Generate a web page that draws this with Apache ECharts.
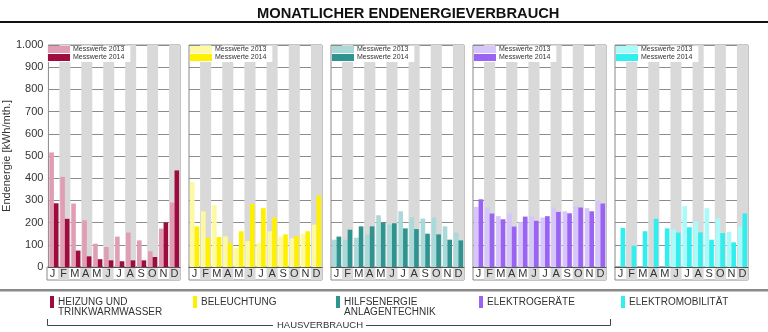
<!DOCTYPE html>
<html>
<head>
<meta charset="utf-8">
<script src="https://cdn.jsdelivr.net/npm/echarts@6/dist/echarts.min.js"></script>
<style>html,body{margin:0;padding:0;background:#fff}#c{width:768px;height:332px}</style>
</head>
<body>
<div id="c"></div>
<script>
const months = ['J','F','M','A','M','J','J','A','S','O','N','D'];
const yTicks = [0,100,200,300,400,500,600,700,800,900,1000];
const seriesNames = ['Messwerte 2013','Messwerte 2014'];
const categoryNames = ['HEIZUNG UND\nTRINKWARMWASSER','BELEUCHTUNG','HILFSENERGIE\nANLAGENTECHNIK','ELEKTROGERÄTE','ELEKTROMOBILITÄT'];
const groupLabel = 'HAUSVERBRAUCH';

const heizung2013 = [516,406,286,210,105,90,137,155,120,71,173,290];
const heizung2014 = [287,217,74,48,35,30,26,30,30,45,201,435];
const beleuchtung2013 = [383,251,278,138,86,117,108,161,137,129,150,191];
const beleuchtung2014 = [183,132,135,108,161,284,265,223,147,140,161,322];
const hilfs2013 = [123,123,132,147,233,191,251,223,218,223,183,155];
const hilfs2014 = [137,168,183,183,200,197,174,171,150,147,123,120];
const elektro2013 = [271,268,229,241,202,229,223,268,251,274,265,298];
const elektro2014 = [305,241,215,182,227,208,229,248,242,268,251,286];
const mobil2013 = [0,0,0,0,0,170,274,206,265,220,158,183];
const mobil2014 = [176,96,161,217,174,155,179,156,123,153,111,241];

const panels = [
  {d13: heizung2013, d14: heizung2014, c13: '#e09db3', c14: '#9e0b3e'},
  {d13: beleuchtung2013, d14: beleuchtung2014, c13: '#fdf9a2', c14: '#fff000'},
  {d13: hilfs2013, d14: hilfs2014, c13: '#a9d9d8', c14: '#2f9490'},
  {d13: elektro2013, d14: elektro2014, c13: '#d6c6fc', c14: '#9a63f4'},
  {d13: mobil2013, d14: mobil2014, c13: '#aafafa', c14: '#33eeee'}
];

const FONT = '"Liberation Sans", Arial, sans-serif';
const pLeft0 = 47, pStep = 142, pW = 133, pTop = 45, zeroY = 267, labH = 13;
const stripe = ['rgba(255,255,255,0)', '#d9d9d9'];

const grid = [], xAxis = [], yAxis = [], series = [], legend = [];
panels.forEach((p, i) => {
  const left = pLeft0 + i * pStep;
  grid.push({left: left, top: pTop, width: pW, height: zeroY - pTop, show: true, borderColor: '#8a8a8a', borderWidth: 1, containLabel: false});
  grid.push({left: left, top: zeroY, width: pW, height: labH, show: true, borderColor: '#8a8a8a', borderWidth: 1});
  xAxis.push({gridIndex: 2*i, type: 'category', data: months, boundaryGap: true,
    axisLine: {show: true, lineStyle: {color: '#555', width: 1}}, axisTick: {show: false}, axisLabel: {show: false},
    splitArea: {show: true, interval: 0, areaStyle: {color: stripe}}, splitLine: {show: false}});
  xAxis.push({gridIndex: 2*i+1, type: 'category', data: months, boundaryGap: true, position: 'top',
    axisLine: {show: false}, axisTick: {show: false},
    axisLabel: {show: true, inside: true, interval: 0, margin: 1, fontSize: 11, color: '#333', fontFamily: FONT, verticalAlign: 'top'},
    splitArea: {show: true, interval: 0, areaStyle: {color: stripe}}, splitLine: {show: false}});
  yAxis.push({gridIndex: 2*i, type: 'value', min: yTicks[0], max: yTicks[yTicks.length-1], interval: yTicks[1]-yTicks[0],
    axisLine: {show: false}, axisTick: {show: false},
    axisLabel: {show: i === 0, fontSize: 11, color: '#333', fontFamily: FONT, margin: 5,
      formatter: v => v >= 1000 ? Math.floor(v/1000) + '.' + String(v%1000).padStart(3,'0') : String(v)},
    splitLine: {show: true, lineStyle: {color: '#8c8c8c', width: 1}},
    name: i === 0 ? 'Endenergie [kWh/mth.]' : '', nameLocation: 'middle', nameGap: 34, nameRotate: 90,
    nameTextStyle: {fontSize: 11, color: '#333', fontFamily: FONT}});
  yAxis.push({gridIndex: 2*i+1, type: 'value', min: 0, max: 1, show: false});
  series.push({type: 'bar', name: seriesNames[0], xAxisIndex: 2*i, yAxisIndex: 2*i, data: p.d13,
    itemStyle: {color: p.c13}, barGap: '0%', barCategoryGap: '16%', silent: true, animation: false});
  series.push({type: 'bar', name: seriesNames[1], xAxisIndex: 2*i, yAxisIndex: 2*i, data: p.d14,
    itemStyle: {color: p.c14}, barGap: '0%', barCategoryGap: '16%', silent: true, animation: false});
  legend.push({left: left + 1, top: pTop + 1, orient: 'vertical', icon: 'rect', itemWidth: 22, itemHeight: 7, itemGap: 1,
    padding: [0, 6, 1, 0], backgroundColor: '#fff', selectedMode: false,
    textStyle: {fontSize: 7, color: '#333', fontFamily: FONT, padding: [0, 0, 0, -2]},
    data: [{name: seriesNames[0], itemStyle: {color: p.c13}}, {name: seriesNames[1], itemStyle: {color: p.c14}}]});
});

const legX = [50, 193, 336, 479, 621];
const graphic = [
  {type: 'rect', shape: {x: 0, y: 21, width: 768, height: 2}, style: {fill: '#111'}},
  {type: 'rect', shape: {x: 0, y: 289, width: 768, height: 2.5}, style: {fill: '#8a8a8a'}},
  {type: 'polyline', shape: {points: [[47.5, 319], [47.5, 325.5], [273, 325.5]]}, style: {stroke: '#444', lineWidth: 1, fill: null}},
  {type: 'polyline', shape: {points: [[366, 325.5], [610.5, 325.5], [610.5, 319]]}, style: {stroke: '#444', lineWidth: 1, fill: null}},
  {type: 'text', x: 320, y: 325.5, style: {text: groupLabel, fontSize: 9.5, fill: '#333', fontFamily: FONT, align: 'center', verticalAlign: 'middle'}}
];
panels.forEach((p, i) => {
  graphic.push({type: 'rect', shape: {x: legX[i], y: 296, width: 4, height: 12}, style: {fill: p.c14}});
  graphic.push({type: 'text', x: legX[i] + 8, y: 297, style: {text: categoryNames[i], fontSize: 10, lineHeight: 10, fill: '#333', fontFamily: FONT, align: 'left', verticalAlign: 'top'}});
});

const chart = echarts.init(document.getElementById('c'), null, {renderer: 'canvas'});
chart.setOption({
  animation: false,
  backgroundColor: '#fff',
  title: {text: 'MONATLICHER ENDENERGIEVERBRAUCH', left: 252, top: 1, textStyle: {fontSize: 14.7, fontWeight: 'bold', color: '#111', fontFamily: FONT}},
  grid, xAxis, yAxis, series, legend, graphic
});
</script>
</body>
</html>
